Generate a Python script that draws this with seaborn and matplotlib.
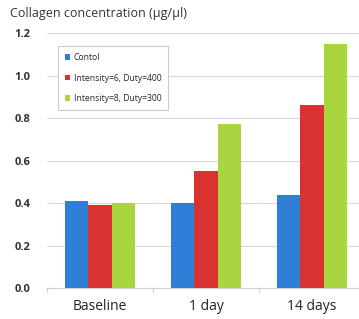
import numpy as np
import pandas as pd
import matplotlib
matplotlib.use("Agg")
import matplotlib.pyplot as plt
import seaborn as sns

# Data
groups = ["Baseline", "1 day", "14 days"]
series = ["Contol", "Intensity=6, Duty=400", "Intensity=8, Duty=300"]
control = [0.41, 0.40, 0.44]
int6_duty400 = [0.39, 0.55, 0.86]
int8_duty300 = [0.40, 0.77, 1.15]
colors = ["#2f7ed8", "#d93331", "#a9d63e"]

df = pd.DataFrame({
    "group": groups * 3,
    "series": [series[0]] * 3 + [series[1]] * 3 + [series[2]] * 3,
    "value": control + int6_duty400 + int8_duty300,
})

sns.set_style("white")
plt.rcParams["font.family"] = ["Open Sans", "DejaVu Sans"]

fig = plt.figure(figsize=(3.59, 3.19), dpi=100)
ax = fig.add_axes([47 / 359, 31 / 319, 318 / 359, 255 / 319])

sns.barplot(data=df, x="group", y="value", hue="series", order=groups,
            hue_order=series, palette=colors, width=0.66, saturation=1,
            linewidth=0, ax=ax)

ax.set_xlim(-0.5, 2.5)
ax.set_ylim(0, 1.2)
ax.set_yticks(np.arange(0, 1.21, 0.2))
ax.set_yticklabels([f"{v:.1f}" for v in np.arange(0, 1.21, 0.2)],
                   fontsize=8, fontweight="bold", color="#333333")
ax.yaxis.grid(True, color="#d9d9d9", linewidth=0.8)
ax.set_axisbelow(True)
ax.tick_params(axis="y", length=0, pad=12)

# category labels and divider ticks
ax.set_xticks([0, 1, 2])
ax.set_xticklabels(groups, fontsize=10, color="#222222")
ax.tick_params(axis="x", length=0, pad=8)
for xd in [-0.5, 0.5, 1.5]:
    ax.plot([xd, xd], [0, -0.02], color="#d0d0d0", lw=0.8, clip_on=False)

for s in ["left", "right", "top"]:
    ax.spines[s].set_visible(False)
ax.spines["bottom"].set_color("#d0d0d0")
ax.spines["bottom"].set_linewidth(0.8)

ax.set_xlabel("")
ax.set_ylabel("")

leg = ax.legend(loc="upper left", bbox_to_anchor=(11 / 318, 1 - 13 / 255),
                borderaxespad=0, fontsize=6.2, frameon=True, fancybox=False,
                handlelength=0.6, handleheight=0.6, handletextpad=0.4,
                labelspacing=1.35, borderpad=0.8, edgecolor="#cccccc",
                framealpha=1)
leg.get_frame().set_linewidth(0.8)

fig.text(10 / 359, 1 - 14 / 319, "Collagen concentration (µg/µl)",
         fontsize=9, color="#333333", va="center", ha="left")

fig.savefig("out.png", dpi=100)
